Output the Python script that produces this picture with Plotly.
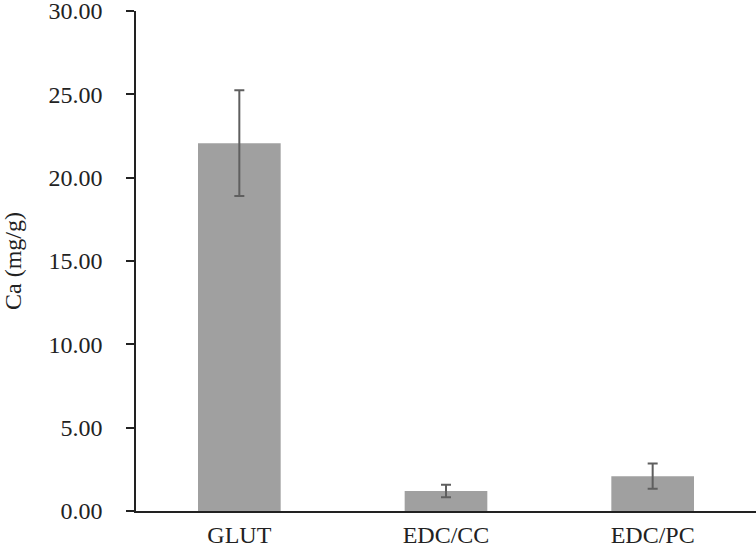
import plotly.graph_objects as go

# values
categories = ["GLUT", "EDC/CC", "EDC/PC"]
ca_mean = [22.07, 1.2, 2.09]
ca_err = [3.17, 0.38, 0.76]
y_ticks = [0, 5, 10, 15, 20, 25, 30]

font = dict(family="Liberation Serif, Times New Roman, serif", size=24, color="#222222")

fig = go.Figure()
fig.add_trace(go.Bar(
    x=categories,
    y=ca_mean,
    marker=dict(color="#a0a0a0", line=dict(width=0)),
    error_y=dict(type="data", array=ca_err, visible=True,
                 color="#5f5f5f", thickness=2, width=5),
))

fig.update_layout(
    width=756, height=548,
    margin=dict(l=136, r=0, t=11, b=37),
    paper_bgcolor="white", plot_bgcolor="white",
    font=font,
    bargap=0.6,
    showlegend=False,
    xaxis=dict(
        showline=True, linecolor="#222222", linewidth=2,
        ticks="", showgrid=False, zeroline=False, automargin=False,
        tickfont=font, ticklabelstandoff=1, ticklabeloverflow="allow",
    ),
    yaxis=dict(
        range=[0, 30.001], tickvals=y_ticks,
        tickformat=".2f",
        showline=True, linecolor="#222222", linewidth=1.5,
        ticks="outside", ticklen=8, tickcolor="#222222", tickwidth=1.5,
        showgrid=False, zeroline=False, automargin=False,
        tickfont=font, ticklabelstandoff=19, ticklabeloverflow="allow",
        title=dict(text="Ca (mg/g)", font=font, standoff=30),
    ),
)

# page body has a default 8px margin; drop it so the figure sits at 0,0
fig.write_html("out.html", config={"displayModeBar": False},
               post_script="document.body.style.margin='0';")
